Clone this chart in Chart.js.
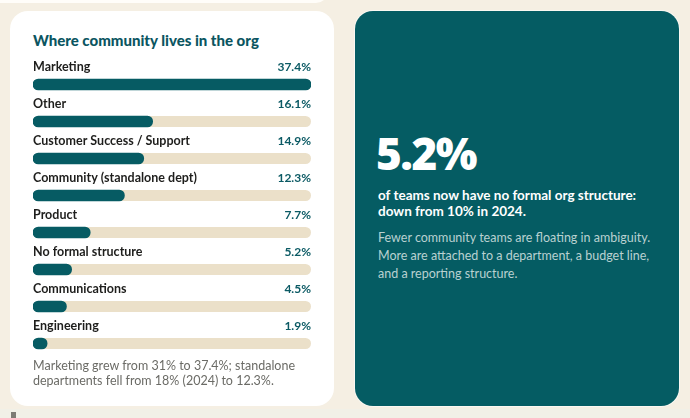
<!DOCTYPE html>
<html>
<head>
<meta charset="utf-8">
<script src="https://cdn.jsdelivr.net/npm/chart.js@4"></script>
<style>
  html, body { margin: 0; padding: 0; }
  body { width: 690px; height: 418px; background: #f5efe3; position: relative; overflow: hidden; font-family: Lato, "Noto Sans", sans-serif; }
  .topstrip { position: absolute; left: 0; top: -20px; width: 328px; height: 23px; background: #fffdf9; border-radius: 0 0 12px 0; }
  .bottomband { position: absolute; left: 0; top: 409px; width: 690px; height: 9px; background: #f1f0e7; }
  .sq { position: absolute; left: 11px; top: 412px; width: 5px; height: 6px; background: #7d7b74; }
  .card { position: absolute; left: 10px; top: 11px; width: 324px; height: 395px; background: #ffffff; border-radius: 18px; }
  .title { position: absolute; left: 33px; top: 31px; font-size: 15px; font-weight: 900; color: #0b5561; letter-spacing: 0px; }
  .chartbox { position: absolute; left: 33px; top: 54px; width: 278px; height: 308px; }
  .note { position: absolute; left: 33px; top: 358px; font-size: 12.5px; line-height: 15px; color: #6b6b66; }
  .big { position: absolute; left: 355px; top: 11px; width: 324px; height: 395px; background: #055c63; border-radius: 18px; box-shadow: 0 0 0 1px rgba(255,255,255,0.55); }
  .kpi { position: absolute; left: 376px; top: 128px; font-size: 44px; font-weight: 800; font-family: "Open Sans", Lato, sans-serif; color: #ffffff; letter-spacing: -1.5px; line-height: 50px; }
  .sub { position: absolute; left: 378px; top: 187px; font-size: 13.5px; font-weight: 700; color: #ffffff; line-height: 16px; }
  .desc { position: absolute; left: 378px; top: 229px; font-size: 12.5px; color: #b9d1d1; line-height: 18px; }
</style>
</head>
<body>
<div class="topstrip"></div>
<div class="card"></div>
<div class="title">Where community lives in the org</div>
<div class="chartbox"><canvas id="c"></canvas></div>
<div class="note">Marketing grew from 31% to 37.4%; standalone<br>departments fell from 18% (2024) to 12.3%.</div>
<div class="big"></div>
<div class="kpi">5.2%</div>
<div class="sub">of teams now have no formal org structure:<br>down from 10% in 2024.</div>
<div class="desc">Fewer community teams are floating in ambiguity.<br>More are attached to a department, a budget line,<br>and a reporting structure.</div>
<div class="bottomband"></div>
<div class="sq"></div>
<script>
const categories = ["Marketing", "Other", "Customer Success / Support", "Community (standalone dept)", "Product", "No formal structure", "Communications", "Engineering"];
const shares = [37.4, 16.1, 14.9, 12.3, 7.7, 5.2, 4.5, 1.9];
const valueLabels = ["37.4%", "16.1%", "14.9%", "12.3%", "7.7%", "5.2%", "4.5%", "1.9%"];

const BAR_H = 11;
const trackPlugin = {
  id: 'track',
  beforeDatasetsDraw(chart) {
    const ctx = chart.ctx, a = chart.chartArea;
    const meta = chart.getDatasetMeta(0);
    ctx.save();
    ctx.fillStyle = '#ebe0c9';
    meta.data.forEach(el => {
      ctx.beginPath();
      ctx.roundRect(a.left, el.y - BAR_H / 2, a.right - a.left, BAR_H, BAR_H / 2);
      ctx.fill();
    });
    ctx.restore();
  }
};
const labelPlugin = {
  id: 'rowLabels',
  afterDatasetsDraw(chart) {
    const ctx = chart.ctx, a = chart.chartArea;
    const meta = chart.getDatasetMeta(0);
    ctx.save();
    ctx.textBaseline = 'alphabetic';
    meta.data.forEach((el, i) => {
      const by = el.y - 13.5;
      ctx.font = '700 12.5px Lato, "Noto Sans", sans-serif';
      ctx.fillStyle = '#1e1e1c';
      ctx.textAlign = 'left';
      ctx.fillText(chart.data.labels[i], a.left, by);
      ctx.font = '700 12px Lato, "Noto Sans", sans-serif';
      ctx.fillStyle = '#0b5a64';
      ctx.textAlign = 'right';
      ctx.fillText(valueLabels[i], a.right, by);
    });
    ctx.restore();
  }
};

new Chart(document.getElementById('c'), {
  type: 'bar',
  data: {
    labels: categories,
    datasets: [{
      data: shares,
      backgroundColor: '#065b63',
      borderRadius: BAR_H / 2,
      borderSkipped: false,
      barThickness: BAR_H
    }]
  },
  options: {
    indexAxis: 'y',
    responsive: true,
    maintainAspectRatio: false,
    animation: false,
    layout: { padding: { top: 12, left: 0, right: 0, bottom: 0 } },
    plugins: { legend: { display: false }, tooltip: { enabled: false } },
    scales: {
      x: { display: false, min: 0, max: Math.max(...shares), grid: { display: false } },
      y: { display: false, grid: { display: false } }
    }
  },
  plugins: [trackPlugin, labelPlugin]
});
</script>
</body>
</html>
